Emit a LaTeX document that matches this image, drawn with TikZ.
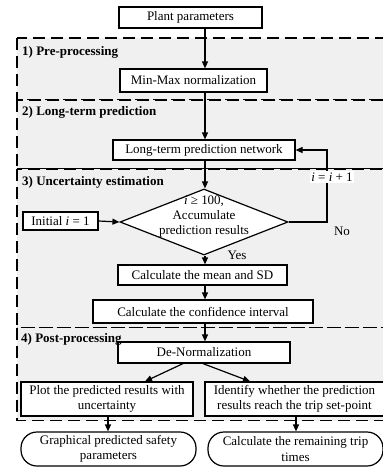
\documentclass[tikz,border=0pt]{standalone}
\usepackage{fontspec}
\setmainfont{Liberation Serif}
\usetikzlibrary{arrows.meta,shapes.geometric}
\definecolor{regfill}{RGB}{240,240,240}
\begin{document}
\begin{tikzpicture}[x=1pt,y=-1pt,
  font=\fontsize{13}{15}\selectfont,
  box/.style={draw, line width=1.2pt, fill=white, inner sep=0pt, align=center},
  oval/.style={box, rounded corners=16pt},
  region/.style={draw, dash pattern=on 12pt off 6pt, line width=1.3pt, fill=regfill},
  arr/.style={-{Triangle[length=7pt,width=6pt]}, line width=1.2pt},
  lbl/.style={font=\fontsize{13}{15}\selectfont\bfseries, anchor=west, inner sep=0pt}]
\clip (0,0) rectangle (383,467);
% regions
\path[region] (17,38) rectangle (392,100);
\path[region] (17,100) rectangle (392,169);
\path[region] (17,169) rectangle (392,327.5);
\path[region] (17,327.5) rectangle (392,420.5);
\node[lbl] (l1) at (22,52) {1) Pre-processing};
\node[lbl] (l2) at (22,112) {2) Long-term prediction};
\node[lbl] (l3) at (22,182) {3) Uncertainty estimation};
% nodes
\node[box, minimum width=143pt, minimum height=21pt] (plant) at (190.5,17.5) {Plant parameters};
\node[box, minimum width=147pt, minimum height=23pt] (minmax) at (193.5,80.5) {Min-Max normalization};
\node[box, minimum width=182pt, minimum height=20pt] (ltnet) at (204,150) {Long-term prediction network};
\node[draw, line width=1.2pt, fill=white, shape=diamond, inner sep=0pt,
      minimum width=168pt, minimum height=66pt] (dec) at (204,222) {};
\node[align=center, inner sep=0pt] (dectext) at ([yshift=5pt]dec.center)
  {\textit{i} ≥ 100,\\Accumulate\\prediction results};
\node[box, minimum width=75pt, minimum height=18pt] (init) at (60.5,221) {Initial \textit{i} = 1};
\node[box, minimum width=169pt, minimum height=20pt] (mean) at (202.5,275) {Calculate the mean and SD};
\node[box, minimum width=220pt, minimum height=23pt] (conf) at (203,311.5) {Calculate the confidence interval};
\node[box, minimum width=172pt, minimum height=21pt] (denorm) at (204,352.5) {De-Normalization};
\node[lbl] (l4) at (21,339) {4) Post-processing};
\node[box, minimum width=172pt, minimum height=34pt, font=\fontsize{13}{14.5}\selectfont] (plot) at (107,399)
  {Plot the predicted results with\\uncertainty};
\node[box, minimum width=179pt, minimum height=34pt, font=\fontsize{13}{14.5}\selectfont] (ident) at (294.5,399)
  {Identify whether the prediction\\results reach the trip set-point};
\node[oval, minimum width=175pt, minimum height=34pt, font=\fontsize{13}{15.5}\selectfont] (out1) at (108.5,449)
  {Graphical predicted safety\\parameters};
\node[oval, minimum width=175pt, minimum height=34pt, font=\fontsize{13}{15.5}\selectfont] (out2) at (295.5,449)
  {Calculate the remaining trip\\times};
% connectors
\coordinate (ax) at (205,0);
\coordinate (fb) at (327,0);
\draw[arr] (plant.south -| ax) -- (minmax.north -| ax);
\draw[arr] (minmax.south -| ax) -- (ltnet.north -| ax);
\draw[arr] (ltnet.south -| ax) -- (dec.north -| ax);
\draw[arr] (dec.south -| ax) -- (mean.north -| ax);
\node[inner sep=0pt] (yes) at (237,255) {Yes};
\draw[arr] (mean.south -| ax) -- (conf.north -| ax);
\draw[arr] (conf.south -| ax) -- (denorm.north -| ax);
\draw[arr] (init.east) -- (dec.west);
\draw[arr] (dec.east) -- (dec.east -| fb) -- (ltnet.east -| fb) -- (ltnet.east);
\node[fill=white, inner sep=1.5pt] (inc) at (332,177) {\textit{i} = \textit{i} + 1};
\node[inner sep=0pt] (no) at (342,231) {No};
\draw[arr] ([xshift=-21pt]denorm.south) -- ([xshift=38pt]plot.north);
\draw[arr] ([xshift=-1pt]denorm.south) -- ([xshift=-44.5pt]ident.north);
\draw[arr] ([xshift=1pt]plot.south) -- ([xshift=1pt]plot.south |- out1.north);
\draw[arr] ([xshift=1.5pt]ident.south) -- ([xshift=1.5pt]ident.south |- out2.north);
\end{tikzpicture}
\end{document}
